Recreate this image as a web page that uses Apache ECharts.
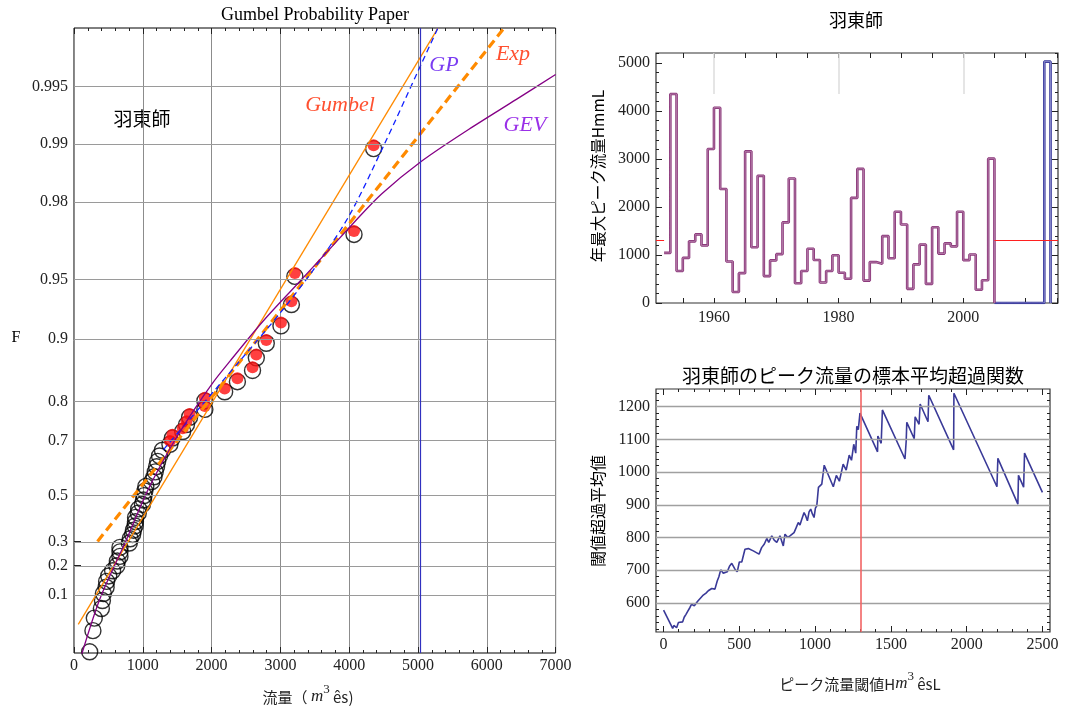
<!DOCTYPE html>
<html>
<head>
<meta charset="utf-8">
<script src="https://cdn.jsdelivr.net/npm/echarts@6/dist/echarts.min.js"></script>
<style>
  html, body { margin: 0; padding: 0; background: #fff; }
  #chart { width: 1065px; height: 707px; }
</style>
</head>
<body>
<div id="chart"></div>
<script>
// ---- 羽東師: annual maximum peak flow (m3/s) ----
const years = [1952, 1953, 1954, 1955, 1956, 1957, 1958, 1959, 1960, 1961,
  1962, 1963, 1964, 1965, 1966, 1967, 1968, 1969, 1970, 1971,
  1972, 1973, 1974, 1975, 1976, 1977, 1978, 1979, 1980, 1981,
  1982, 1983, 1984, 1985, 1986, 1987, 1988, 1989, 1990, 1991,
  1992, 1993, 1994, 1995, 1996, 1997, 1998, 1999, 2000, 2001,
  2002, 2003, 2004];
const annualPeaks = [1044, 4355, 668, 940, 1285, 1430, 1200, 3210, 4070, 2375,
  864, 228, 622, 3160, 1163, 2650, 561, 888, 1018, 1680,
  2595, 413, 668, 1130, 895, 427, 668, 995, 630, 505,
  2190, 2795, 467, 852, 817, 1394, 934, 1902, 1635, 295,
  804, 1216, 398, 1580, 1030, 1243, 1181, 1902, 893, 1010,
  275, 474, 3008];
// later record (no annual peaks kept until the 2013 flood)
const recentYears = [2005, 2006, 2007, 2008, 2009, 2010, 2011, 2012, 2013];
const recentPeaks = [0, 0, 0, 0, 0, 0, 0, 0, 5030];
const threshold = 1300;      // POT threshold (m3/s)
const floodFlow2013 = 5030;  // marked on the probability paper

// plotting positions of the ranked annual maxima (ascending)
const plotPositions = [0.01054, 0.02937, 0.04819, 0.06702, 0.08584, 0.10467, 0.12349, 0.14232, 0.16114, 0.17997,
  0.19880, 0.21762, 0.23645, 0.25527, 0.27410, 0.29292, 0.31175, 0.33057, 0.34940, 0.36822,
  0.38705, 0.40587, 0.42470, 0.44352, 0.46235, 0.48117, 0.50000, 0.51883, 0.53765, 0.55648,
  0.57530, 0.59413, 0.61295, 0.63178, 0.65060, 0.66943, 0.68825, 0.70708, 0.72590, 0.74473,
  0.76355, 0.78238, 0.80120, 0.82003, 0.83886, 0.85768, 0.87651, 0.89533, 0.91416, 0.93298,
  0.95181, 0.97063, 0.98946];
// plotting positions of the threshold exceedances (ascending)
const excessPositions = [0.69836, 0.71672, 0.73505, 0.75337, 0.77169, 0.78993, 0.80820, 0.82644, 0.84466,
  0.86286, 0.88106, 0.89922, 0.91739, 0.93553, 0.95366, 0.97177, 0.98987];

// fitted distributions: flow (m3/s) and non-exceedance probability F
const gumbelFlow = [62, 5290];
const gumbelF = [0.038, 0.99752];
const expFlow = [342, 6250];
const expF = [0.30, 0.99752];
const gpFlow = [1300, 1800, 2400, 3000, 3500, 4000, 4500, 5000, 5300];
const gpF = [0.6713, 0.7815, 0.8710, 0.9263, 0.9564, 0.9765, 0.9898, 0.99584, 0.99757];
const gevFlow = [100, 380, 770, 1060, 1400, 1730, 2030, 2270, 2750, 3240, 3720, 4060, 4470, 5060, 5740, 6430, 7000];
const gevF = [0.00779, 0.0919, 0.3129, 0.5150, 0.6767, 0.7776, 0.8390, 0.8722, 0.9189, 0.9470,
  0.9652, 0.9743, 0.98185, 0.98780, 0.99164, 0.99416, 0.99567];

// probability-paper tick labels
const fTicks = [0.1, 0.2, 0.3, 0.5, 0.7, 0.8, 0.9, 0.95, 0.98, 0.99, 0.995];

// sample mean excess function of the peak-flow series
const meThreshold = [0, 60, 68, 75, 86, 98, 108, 126, 136, 148,
  160, 174, 185, 203, 225, 262, 280, 295, 318, 339,
  354, 365, 377, 394, 420, 435, 450, 471, 486, 500,
  516, 537, 548, 559, 592, 630, 647, 665, 681, 694,
  714, 730, 747, 768, 790, 801, 820, 834, 861, 875,
  889, 900, 912, 927, 938, 949, 960, 971, 982, 993,
  1002, 1011, 1022, 1044, 1060, 1120, 1140, 1160, 1185, 1205,
  1225, 1240, 1255, 1268, 1275, 1285, 1296, 1412, 1414, 1436,
  1444, 1593, 1601, 1605, 1654, 1660, 1686, 1693, 1745, 1750,
  1914, 1916, 2200, 2206, 2338, 2342, 2376, 2382, 2500];
const meMean = [578, 522, 531, 530, 524, 540, 545, 542, 556, 565,
  575, 586, 596, 591, 605, 624, 630, 637, 644, 642,
  667, 680, 701, 691, 695, 712, 721, 703, 695, 725,
  725, 764, 760, 766, 759, 749, 769, 780, 797, 785,
  805, 792, 785, 805, 774, 810, 800, 805, 815, 830,
  846, 838, 856, 876, 866, 851, 878, 887, 872, 861,
  890, 897, 953, 963, 1021, 955, 990, 972, 1024, 1006,
  1052, 1036, 1085, 1058, 1140, 1130, 1180, 1062, 1110, 1088,
  1190, 1040, 1095, 1152, 1102, 1169, 1146, 1208, 1154, 1235,
  1068, 1241, 955, 1042, 902, 990, 954, 1058, 938];

const yearLabelTicks = [1960, 1980, 2000];
const peakLabelTicks = [0, 1000, 2000, 3000, 4000, 5000];
const meXLabelTicks = [0, 500, 1000, 1500, 2000, 2500];
const meYLabelTicks = [600, 700, 800, 900, 1000, 1100, 1200];

// ---------------------------------------------------------------
const gumbelY = F => -Math.log(-Math.log(F));
const seq = (a, b, s) => { const r = []; for (let v = a; v <= b + 1e-9; v += s) r.push(v); return r; };

const serif = "'Liberation Serif', 'DejaVu Serif', serif";
const sans = "'Noto Sans CJK JP', 'Noto Sans', sans-serif";
const ink = '#222';

const sortedFlows = annualPeaks.slice().sort((a, b) => a - b);
const excessFlows = sortedFlows.filter(v => v > threshold);
const fTickPos = fTicks.map(gumbelY);
const fLabel = v => {
  let k = 0, d = Infinity;
  fTickPos.forEach((p, i) => { if (Math.abs(p - v) < d) { d = Math.abs(p - v); k = i; } });
  return String(fTicks[k]);
};
const curve = (xs, fs) => xs.map((x, i) => [x, gumbelY(fs[i])]);

const LY = [-1.53, 6.0];
const TRX = [1950.7, 2015.2], TRY = [0, 5210];
const BRX = [-50, 2550], BRY = [511, 1254];

const tickLine = { color: ink, width: 1 };
const hiddenLine = { show: false, onZero: false };
function tickAxis(gridIndex, position, ext, values, length) {
  return {
    type: 'value', gridIndex, position, min: ext[0], max: ext[1],
    axisLine: hiddenLine, splitLine: { show: false }, axisLabel: { show: false },
    axisTick: { show: true, inside: true, length, customValues: values, lineStyle: tickLine }
  };
}
const numLabel = { fontFamily: serif, fontSize: 16, color: ink };

const xAxis = [
  // probability paper
  {
    type: 'value', gridIndex: 0, position: 'bottom', min: 0, max: 7000, interval: 1000,
    axisLine: hiddenLine,
    axisTick: { inside: true, length: 6, lineStyle: tickLine },
    minorTick: { show: true, splitNumber: 5, length: 3, lineStyle: tickLine },
    splitLine: { show: true, lineStyle: { color: '#8c8c8c', width: 1 } },
    axisLabel: Object.assign({ margin: 5, formatter: v => String(v) }, numLabel)
  },
  {
    type: 'value', gridIndex: 0, position: 'top', min: 0, max: 7000, interval: 1000,
    axisLine: hiddenLine, axisLabel: { show: false }, splitLine: { show: false },
    axisTick: { inside: true, length: 6, lineStyle: tickLine },
    minorTick: { show: true, splitNumber: 5, length: 3, lineStyle: tickLine }
  },
  // annual series
  {
    type: 'value', gridIndex: 1, position: 'bottom', min: TRX[0], max: TRX[1],
    axisLine: hiddenLine, splitLine: { show: false },
    axisTick: { show: true, inside: true, length: 5, customValues: seq(1955, 2015, 5), lineStyle: tickLine },
    axisLabel: Object.assign({ margin: 7, customValues: yearLabelTicks, formatter: v => String(v) }, numLabel)
  },
  tickAxis(1, 'top', TRX, seq(1955, 2015, 5), 5),
  // mean excess
  {
    type: 'value', gridIndex: 2, position: 'bottom', min: BRX[0], max: BRX[1],
    axisLine: hiddenLine, splitLine: { show: false },
    axisTick: { show: true, inside: true, length: 6, customValues: meXLabelTicks, lineStyle: tickLine },
    axisLabel: Object.assign({ margin: 5, customValues: meXLabelTicks, formatter: v => String(v) }, numLabel)
  },
  tickAxis(2, 'bottom', BRX, seq(0, 2500, 100), 3),
  tickAxis(2, 'top', BRX, meXLabelTicks, 6),
  tickAxis(2, 'top', BRX, seq(0, 2500, 100), 3)
];

const yAxis = [
  {
    type: 'value', gridIndex: 0, position: 'left', min: LY[0], max: LY[1],
    axisLine: hiddenLine, splitLine: { show: false },
    axisTick: { show: true, inside: true, length: 7, customValues: fTickPos, lineStyle: tickLine },
    axisLabel: Object.assign({ margin: 6, customValues: fTickPos, formatter: fLabel }, numLabel)
  },
  {
    type: 'value', gridIndex: 1, position: 'left', min: TRY[0], max: TRY[1],
    axisLine: hiddenLine, splitLine: { show: false },
    axisTick: { show: true, inside: true, length: 6, customValues: peakLabelTicks, lineStyle: tickLine },
    axisLabel: Object.assign({ margin: 6, customValues: peakLabelTicks, formatter: v => String(v) }, numLabel)
  },
  tickAxis(1, 'left', TRY, seq(0, 5200, 200), 3),
  tickAxis(1, 'right', TRY, peakLabelTicks, 6),
  tickAxis(1, 'right', TRY, seq(0, 5200, 200), 3),
  {
    type: 'value', gridIndex: 2, position: 'left', min: BRY[0], max: BRY[1],
    axisLine: hiddenLine, splitLine: { show: false },
    axisTick: { show: true, inside: true, length: 6, customValues: meYLabelTicks, lineStyle: tickLine },
    axisLabel: Object.assign({ margin: 6, customValues: meYLabelTicks, formatter: v => String(v) }, numLabel)
  },
  tickAxis(2, 'left', BRY, seq(520, 1240, 20), 3),
  tickAxis(2, 'right', BRY, meYLabelTicks, 6),
  tickAxis(2, 'right', BRY, seq(520, 1240, 20), 3)
];

const noLabel = { show: false };
const plain = { symbol: 'none', label: noLabel, silent: true };

// step outlines of the annual series
const stepData = years.map((y, i) => [y, annualPeaks[i]]).concat([[recentYears[0], recentPeaks[0]]]);
const recentData = recentYears.map((y, i) => [y, recentPeaks[i]])
  .concat([[recentYears[recentYears.length - 1] + 1, 0]]);
const maxPeak = Math.max.apply(null, annualPeaks);

const series = [
  // probability paper: grid lines and 2013 flood line
  {
    type: 'line', xAxisIndex: 0, yAxisIndex: 0, data: [], z: 1,
    markLine: Object.assign({
      data: fTickPos.map(p => ({ yAxis: p, lineStyle: { color: '#9a9a9a', width: 1.2, type: 'solid' } }))
        .concat([{ xAxis: floodFlow2013, lineStyle: { color: '#3030c0', width: 1.2, type: 'solid' } }])
    }, plain)
  },
  {
    type: 'scatter', xAxisIndex: 0, yAxisIndex: 0, z: 2,
    symbol: 'circle', symbolSize: 16,
    itemStyle: { color: 'rgba(255,255,255,0)', borderColor: '#000', borderWidth: 1.4 },
    data: sortedFlows.map((x, i) => [x, gumbelY(plotPositions[i])])
  },
  {
    type: 'scatter', xAxisIndex: 0, yAxisIndex: 0, z: 3,
    symbol: 'circle', symbolSize: 12,
    itemStyle: { color: '#ff1010' },
    data: excessFlows.map((x, i) => [x, gumbelY(excessPositions[i])])
  },
  {
    type: 'line', xAxisIndex: 0, yAxisIndex: 0, z: 4, showSymbol: false,
    lineStyle: { color: '#ff8a00', width: 1.3 }, data: curve(gumbelFlow, gumbelF)
  },
  {
    type: 'line', xAxisIndex: 0, yAxisIndex: 0, z: 4, showSymbol: false,
    lineStyle: { color: '#ff8a00', width: 3.2, type: [9, 5] }, data: curve(expFlow, expF)
  },
  {
    type: 'line', xAxisIndex: 0, yAxisIndex: 0, z: 4, showSymbol: false, smooth: 0.3,
    lineStyle: { color: '#1020ff', width: 1.3, type: [6, 4] }, data: curve(gpFlow, gpF)
  },
  {
    type: 'line', xAxisIndex: 0, yAxisIndex: 0, z: 4, showSymbol: false, smooth: 0.3,
    lineStyle: { color: '#850085', width: 1.3 }, data: curve(gevFlow, gevF)
  },
  // annual series: partial year grid lines and threshold
  {
    type: 'line', xAxisIndex: 2, yAxisIndex: 1, data: [], z: 1,
    markLine: Object.assign({
      data: yearLabelTicks.map(y => [
        { coord: [y, maxPeak], lineStyle: { color: '#dcdcdc', width: 1.5, type: 'solid' } },
        { coord: [y, TRY[1]] }
      ]).concat([
        [{ coord: [TRX[0], threshold], lineStyle: { color: '#ff2020', width: 1, type: 'solid' } }, { coord: [years[0], threshold] }],
        [{ coord: [recentYears[0], threshold], lineStyle: { color: '#ff2020', width: 1, type: 'solid' } }, { coord: [TRX[1], threshold] }]
      ])
    }, plain)
  },
  {
    type: 'line', xAxisIndex: 2, yAxisIndex: 1, step: 'end', showSymbol: false, z: 3,
    lineStyle: { color: '#8a3479', width: 2.6 }, data: stepData
  },
  {
    type: 'line', xAxisIndex: 2, yAxisIndex: 1, step: 'end', showSymbol: false, z: 3,
    lineStyle: { color: '#c296b8', width: 0.7 }, data: stepData
  },
  {
    type: 'line', xAxisIndex: 2, yAxisIndex: 1, step: 'end', showSymbol: false, z: 2,
    lineStyle: { color: '#38389a', width: 2.6 }, data: recentData
  },
  {
    type: 'line', xAxisIndex: 2, yAxisIndex: 1, step: 'end', showSymbol: false, z: 2,
    lineStyle: { color: '#a8a8e0', width: 0.7 }, data: recentData
  },
  // mean excess: grid lines and threshold
  {
    type: 'line', xAxisIndex: 4, yAxisIndex: 5, data: [], z: 1,
    markLine: Object.assign({
      data: meYLabelTicks.map(v => ({ yAxis: v, lineStyle: { color: '#a0a0a0', width: 1.4, type: 'solid' } }))
        .concat([{ xAxis: threshold, lineStyle: { color: '#f26464', width: 1.6, type: 'solid' } }])
    }, plain)
  },
  {
    type: 'line', xAxisIndex: 4, yAxisIndex: 5, showSymbol: false, z: 3,
    lineStyle: { color: '#3a3a98', width: 1.6 },
    data: meThreshold.map((u, i) => [u, meMean[i]])
  }
];

const txt = (x, y, text, style, extra) => Object.assign({
  type: 'text', x, y, silent: true,
  style: Object.assign({ text, align: 'center', verticalAlign: 'middle', fill: '#000' }, style)
}, extra || {});

const graphic = [
  txt(315, 15, 'Gumbel Probability Paper', { fontFamily: serif, fontSize: 18 }),
  txt(16, 338, 'F', { fontFamily: serif, fontSize: 16 }),
  txt(142, 119, '羽東師', { fontFamily: sans, fontSize: 19 }),
  txt(340, 105, 'Gumbel', { fontFamily: serif, fontSize: 22, fontStyle: 'italic', fill: '#ff5030' }),
  txt(444, 65, 'GP', { fontFamily: serif, fontSize: 22, fontStyle: 'italic', fill: '#7a3cf2' }),
  txt(513, 54, 'Exp', { fontFamily: serif, fontSize: 22, fontStyle: 'italic', fill: '#ff5030' }),
  txt(525, 125, 'GEV', { fontFamily: serif, fontSize: 22, fontStyle: 'italic', fill: '#9a30e8' }),
  txt(308, 694, '{a|流量（ }{m|m}{s|3}{a| ês)}', {
    rich: {
      a: { fontFamily: sans, fontSize: 15, fill: ink, lineHeight: 22, verticalAlign: 'bottom' },
      m: { fontFamily: serif, fontSize: 17, fontStyle: 'italic', fill: ink, lineHeight: 22, verticalAlign: 'bottom' },
      s: { fontFamily: serif, fontSize: 13, fill: ink, lineHeight: 22, verticalAlign: 'top' }
    }
  }),
  txt(856, 20, '羽東師', { fontFamily: sans, fontSize: 18 }),
  txt(598, 176, '年最大ピーク流量HmmL', { fontFamily: sans, fontSize: 15.5 }, { rotation: Math.PI / 2 }),
  txt(853, 376, '羽東師のピーク流量の標本平均超過関数', { fontFamily: sans, fontSize: 19 }),
  txt(598, 511, '閾値超過平均値', { fontFamily: sans, fontSize: 16 }, { rotation: Math.PI / 2 }),
  txt(860, 681, '{a|ピーク流量閾値H}{m|m}{s|3}{a| ês}{a|L}', {
    rich: {
      a: { fontFamily: sans, fontSize: 15, fill: ink, lineHeight: 22, verticalAlign: 'bottom' },
      m: { fontFamily: serif, fontSize: 17, fontStyle: 'italic', fill: ink, lineHeight: 22, verticalAlign: 'bottom' },
      s: { fontFamily: serif, fontSize: 13, fill: ink, lineHeight: 22, verticalAlign: 'top' }
    }
  })
];

const chart = echarts.init(document.getElementById('chart'), null, { renderer: 'canvas' });
chart.setOption({
  animation: false,
  backgroundColor: '#fff',
  grid: [
    { left: 74, top: 28, width: 481.6, height: 625, show: true, borderColor: '#000', borderWidth: 1, backgroundColor: 'transparent' },
    { left: 656, top: 53, width: 402, height: 250, show: true, borderColor: '#333', borderWidth: 1.2, backgroundColor: 'transparent' },
    { left: 656, top: 389, width: 394, height: 243, show: true, borderColor: '#333', borderWidth: 1.2, backgroundColor: 'transparent' }
  ],
  xAxis, yAxis, series, graphic
});
</script>
</body>
</html>
